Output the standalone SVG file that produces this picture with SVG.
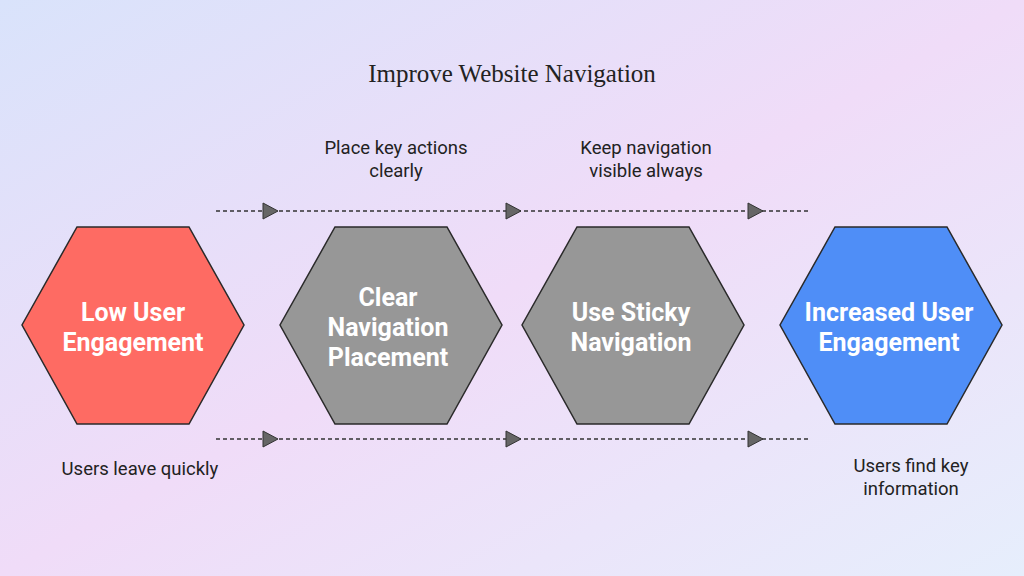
<svg xmlns="http://www.w3.org/2000/svg" width="1024" height="576" viewBox="0 0 1024 576">
<defs>
<linearGradient id="bg" x1="0" y1="0" x2="1" y2="1">
<stop offset="0" stop-color="#d9e3fb"/><stop offset="0.5" stop-color="#f0dcf8"/><stop offset="1" stop-color="#e6eefc"/>
</linearGradient>
</defs>
<style>
.hex{stroke:#2a2a2a;stroke-width:1.5}
.lbl{font-family:Roboto,"Liberation Sans",sans-serif;font-weight:bold;font-size:25px;fill:#fff;text-anchor:middle}
.note{font-family:Roboto,"Liberation Sans",sans-serif;font-size:18.5px;fill:#222;text-anchor:middle}
.dash{stroke:#333;stroke-width:1.5;stroke-dasharray:4 3;fill:none}
.ah{fill:#666;stroke:#333;stroke-width:1}
</style>
<rect width="1024" height="576" fill="url(#bg)"/>
<text x="512" y="82" font-family="'Liberation Serif',serif" font-size="25" fill="#222" text-anchor="middle">Improve Website Navigation</text>
<g id="connectors">
<line class="dash" x1="216" y1="211" x2="808" y2="211"/>
<line class="dash" x1="216" y1="439" x2="808" y2="439"/>
<polygon class="ah" points="263,203 278,211 263,219"/>
<polygon class="ah" points="506,203 521,211 506,219"/>
<polygon class="ah" points="748,203 763,211 748,219"/>
<polygon class="ah" points="263,431 278,439 263,447"/>
<polygon class="ah" points="506,431 521,439 506,447"/>
<polygon class="ah" points="748,431 763,439 748,447"/>
</g>
<g id="n1"><polygon class="hex" fill="#fe6b63" points="77,227 189,227 244,325 189,424 77,424 22,325"/>
<text class="lbl" x="133" y="321">Low User</text><text class="lbl" x="133" y="351">Engagement</text></g>
<g id="n2"><polygon class="hex" fill="#979797" points="335,227 447,227 502,325 447,424 335,424 280,325"/>
<text class="lbl" x="388" y="306">Clear</text><text class="lbl" x="388" y="336">Navigation</text><text class="lbl" x="388" y="366">Placement</text></g>
<g id="n3"><polygon class="hex" fill="#979797" points="577,227 689,227 744,325 689,424 577,424 522,325"/>
<text class="lbl" x="631" y="321">Use Sticky</text><text class="lbl" x="631" y="351">Navigation</text></g>
<g id="n4"><polygon class="hex" fill="#4f8ef7" points="835,227 947,227 1002,325 947,424 835,424 780,325"/>
<text class="lbl" x="889" y="321">Increased User</text><text class="lbl" x="889" y="351">Engagement</text></g>
<g id="notes">
<text class="note" x="396" y="154">Place key actions</text><text class="note" x="396" y="177">clearly</text>
<text class="note" x="646" y="154">Keep navigation</text><text class="note" x="646" y="177">visible always</text>
<text class="note" x="140" y="475">Users leave quickly</text>
<text class="note" x="911" y="472">Users find key</text><text class="note" x="911" y="495">information</text>
</g>
</svg>
